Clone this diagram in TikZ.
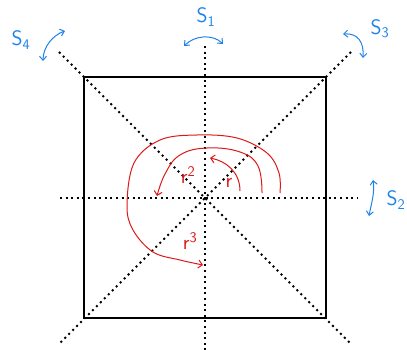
\documentclass[tikz,border=0pt]{standalone}
\usetikzlibrary{arrows.meta}
\definecolor{sblue}{RGB}{30,130,235}
\definecolor{rred}{RGB}{220,25,25}
\begin{document}
\begin{tikzpicture}[x=1pt,y=-1pt,
  axisline/.style={line width=2pt,dash pattern=on 2pt off 3.6pt},
  sqline/.style={line width=1.6pt},
  sarrow/.style={sblue,line width=1pt,{Straight Barb[length=4pt,width=7pt]}-{Straight Barb[length=4pt,width=7pt]}},
  rarrow/.style={rred,line width=1pt,-{Straight Barb[length=4pt,width=8pt]}},
  slabel/.style={sblue,font=\sffamily\fontsize{21}{23}\selectfont},
  rlabel/.style={rred,font=\sffamily\fontsize{21}{23}\selectfont}]
\useasboundingbox (0,0) rectangle (407,350);
% key points
\coordinate (O) at (205,198);
\coordinate (A) at (84,77);
\coordinate (B) at (326,77);
\coordinate (C) at (326,318);
\coordinate (D) at (84,318);
\coordinate (vt) at (205,46);
\coordinate (vb) at (205,350);
\coordinate (hl) at (60,198);
\coordinate (hr) at (357,198);
\coordinate (d1) at (59,52);
\coordinate (d2) at (351,344);
\coordinate (e1) at (351,52);
\coordinate (e2) at (59,344);
% square
\draw[sqline] (A) -- (B) -- (C) -- (D) -- cycle;
% symmetry axes
\draw[axisline] (vt) -- (vb);
\draw[axisline] (hl) -- (hr);
\draw[axisline] (d1) -- (d2);
\draw[axisline] (e1) -- (e2);
% reflections (blue)
\coordinate (s1a) at (184,46);
\coordinate (s1b) at (223,44);
\draw[sarrow] (s1a) .. controls (195,35) and (213,34) .. (s1b);
\node[slabel] (S1) at (206,17) {S\textsubscript{1}};
\coordinate (s4a) at (65,31);
\coordinate (s4b) at (43,61);
\draw[sarrow] (s4a) .. controls (53,35) and (43,47) .. (s4b);
\node[slabel] (S4) at (21,40) {S\textsubscript{4}};
\coordinate (s3a) at (343,34);
\coordinate (s3b) at (363,58);
\draw[sarrow] (s3a) .. controls (358,33) and (364,42) .. (s3b);
\node[slabel] (S3) at (380,29) {S\textsubscript{3}};
\coordinate (s2a) at (373,180);
\coordinate (s2b) at (369,216);
\draw[sarrow] (s2a) .. controls (375,193) and (371,205) .. (s2b);
\node[slabel] (S2) at (396,200) {S\textsubscript{2}};
% rotations (red)
\coordinate (r1a) at (240,191);
\coordinate (r1b) at (210,158);
\draw[rarrow] (r1a) .. controls (240,172) and (226,161) .. (r1b);
\node[rlabel] (R1) at (229,183) {r};
\draw[rarrow] plot[smooth,tension=0.7] coordinates {(262,193) (258,166) (240,152) (207,148) (180,155) (165,174) (157,196)};
\node[rlabel] (R2) at (188,175) {r\textsuperscript{2}};
\draw[rarrow] plot[smooth,tension=0.6] coordinates {(280,193) (279,173) (267,153) (237,138) (197,135) (160,140) (134,163) (127,205) (133,230) (153,252) (180,260) (203,265)};
\node[rlabel] (R3) at (190,241) {r\textsuperscript{3}};
\end{tikzpicture}
\end{document}
